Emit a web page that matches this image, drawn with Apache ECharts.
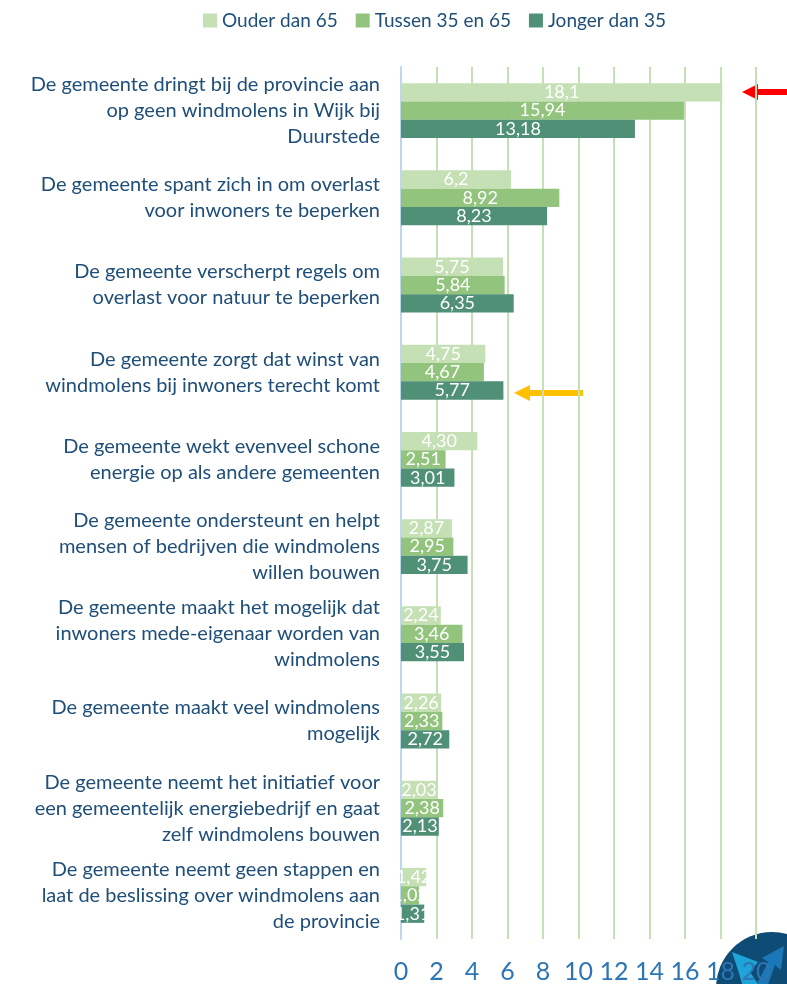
<!DOCTYPE html>
<html>
<head>
<meta charset="utf-8">
<script src="https://cdn.jsdelivr.net/npm/echarts@6/dist/echarts.min.js"></script>
<style>
html,body{margin:0;padding:0;background:#fff;}
#chart{width:787px;height:984px;}
</style>
</head>
<body>
<div id="chart"></div>
<script>
const categories = [
  "De gemeente dringt bij de provincie aan\nop geen windmolens in Wijk bij\nDuurstede",
  "De gemeente spant zich in om overlast\nvoor inwoners te beperken",
  "De gemeente verscherpt regels om\noverlast voor natuur te beperken",
  "De gemeente zorgt dat winst van\nwindmolens bij inwoners terecht komt",
  "De gemeente wekt evenveel schone\nenergie op als andere gemeenten",
  "De gemeente ondersteunt en helpt\nmensen of bedrijven die windmolens\nwillen bouwen",
  "De gemeente maakt het mogelijk dat\ninwoners mede-eigenaar worden van\nwindmolens",
  "De gemeente maakt veel windmolens\nmogelijk",
  "De gemeente neemt het initiatief voor\neen gemeentelijk energiebedrijf en gaat\nzelf windmolens bouwen",
  "De gemeente neemt geen stappen en\nlaat de beslissing over windmolens aan\nde provincie"
];
const seriesNames = ["Ouder dan 65", "Tussen 35 en 65", "Jonger dan 35"];
const ouderValues  = [18.1, 6.2, 5.75, 4.75, 4.30, 2.87, 2.24, 2.26, 2.03, 1.42];
const tussenValues = [15.94, 8.92, 5.84, 4.67, 2.51, 2.95, 3.46, 2.33, 2.38, 1.02];
const jongerValues = [13.18, 8.23, 6.35, 5.77, 3.01, 3.75, 3.55, 2.72, 2.13, 1.31];
const ouderLabels  = ["18,1", "6,2", "5,75", "4,75", "4,30", "2,87", "2,24", "2,26", "2,03", "1,42"];
const tussenLabels = ["15,94", "8,92", "5,84", "4,67", "2,51", "2,95", "3,46", "2,33", "2,38", "1,02"];
const jongerLabels = ["13,18", "8,23", "6,35", "5,77", "3,01", "3,75", "3,55", "2,72", "2,13", "1,31"];
const xTicks = [0, 2, 4, 6, 8, 10, 12, 14, 16, 18, 20];
const colors = ["#c5e0b4", "#93c47d", "#4f9077"];

const allValues = [ouderValues, tussenValues, jongerValues];
const allLabels = [ouderLabels, tussenLabels, jongerLabels];
const FONT = 'Lato';

const chart = echarts.init(document.getElementById('chart'));
const series = seriesNames.map((name, s) => ({
  name: name,
  type: 'bar',
  barGap: '0%',
  barCategoryGap: '37%',
  itemStyle: { color: colors[s] },
  data: allValues[s].map((v, i) => ({ value: v, labelText: allLabels[s][i] })),
  label: {
    show: true,
    position: 'inside',
    color: '#ffffff',
    fontFamily: FONT,
    fontSize: 18,
    formatter: p => p.data.labelText
  }
}));

chart.setOption({
  animation: false,
  backgroundColor: '#ffffff',
  color: colors,
  textStyle: { fontFamily: FONT },
  legend: {
    top: 6,
    left: 198,
    itemWidth: 14,
    itemHeight: 14,
    itemGap: 18,
    icon: 'rect',
    textStyle: { color: '#1f4e79', fontSize: 19, fontFamily: FONT },
    data: seriesNames
  },
  grid: { left: 401, top: 67, width: 355, height: 873, containLabel: false },
  xAxis: {
    type: 'value',
    min: 0,
    max: 20,
    interval: 2,
    axisLine: { show: false },
    axisTick: { show: false },
    splitLine: { show: true, lineStyle: { color: '#c5e0b4', width: 2 } },
    axisLabel: {
      color: '#2e75b6',
      fontSize: 25,
      margin: 20,
      fontFamily: FONT,
      formatter: v => xTicks.includes(v) ? String(v) : ''
    }
  },
  yAxis: {
    type: 'category',
    inverse: true,
    data: categories,
    axisLine: { show: true, lineStyle: { color: '#bdd7ee', width: 2 } },
    axisTick: { show: false },
    axisLabel: {
      color: '#1f4e79',
      fontSize: 20,
      lineHeight: 26,
      align: 'right',
      margin: 21,
      fontFamily: FONT
    }
  },
  series: series,
  graphic: [
    {
      type: 'polygon',
      shape: { points: [[742, 92], [758, 84], [758, 89], [787, 89], [787, 95], [758, 95], [758, 100]] },
      style: { fill: '#ff0000' }
    },
    {
      type: 'polygon',
      shape: { points: [[514, 393], [530, 385], [530, 390], [583, 390], [583, 396], [530, 396], [530, 401]] },
      style: { fill: '#ffc000' }
    },
    {
      type: 'circle',
      shape: { cx: 772, cy: 988, r: 56 },
      style: { fill: '#0f4c75' },
      z: -1
    },
    {
      type: 'polygon',
      shape: { points: [[732, 952], [758, 962], [750, 972], [762, 990], [744, 990], [738, 970]] },
      style: { fill: '#1fa4d8' },
      z: -1
    },
    {
      type: 'polygon',
      shape: { points: [[754, 990], [768, 962], [762, 958], [784, 946], [781, 970], [775, 965], [766, 990]] },
      style: { fill: '#1b78b8' },
      z: -1
    }
  ]
});
</script>
</body>
</html>
